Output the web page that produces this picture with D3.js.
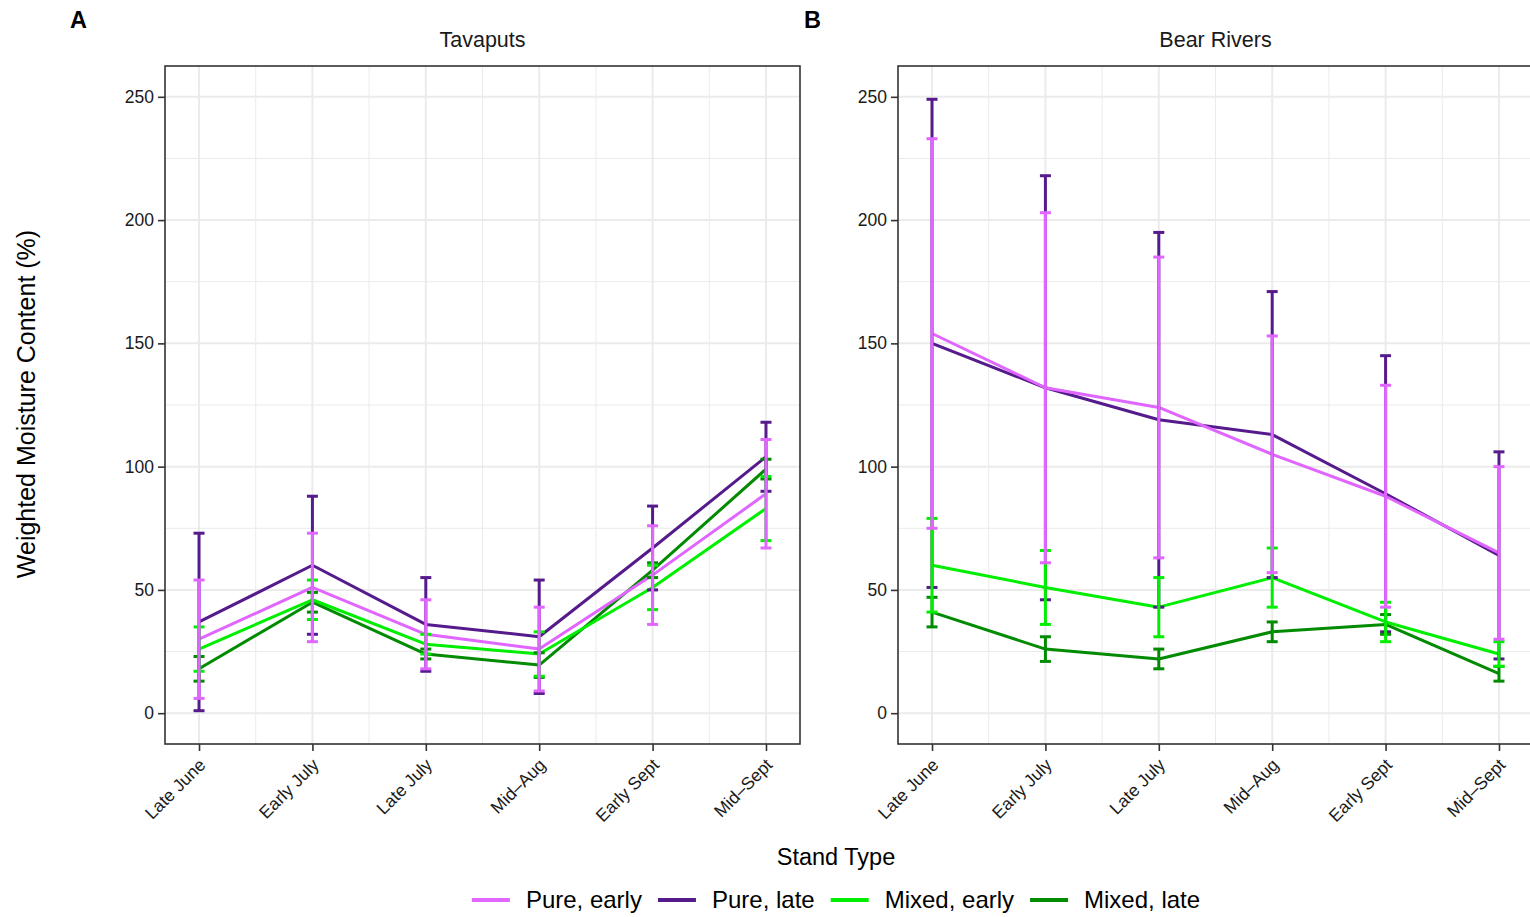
<!DOCTYPE html>
<html>
<head>
<meta charset="utf-8">
<script src="https://cdn.jsdelivr.net/npm/d3@7"></script>
<style>
  html, body { margin: 0; padding: 0; background: #fff; }
  svg { display: block; font-family: "Liberation Sans", Arial, Helvetica, sans-serif; }
</style>
</head>
<body>
<svg id="chart" width="1530" height="917"></svg>
<script>
// ---------- data ----------
const categories = ["Late June", "Early July", "Late July", "Mid–Aug", "Early Sept", "Mid–Sept"];
const seriesNames = ["Pure, early", "Pure, late", "Mixed, early", "Mixed, late"];
const seriesColors = ["#E066FF", "#551A8B", "#00EE00", "#008B00"];
const panelTitles = ["Tavaputs", "Bear Rivers"];
const panelTags = ["A", "B"];
const yTicks = [0, 50, 100, 150, 200, 250];

// Tavaputs: means and error half-widths
const tavPureEarly = [30, 51, 32, 26, 56, 89];
const tavPureEarlyErr = [24, 22, 14, 17, 20, 22];
const tavPureLate = [37, 60, 36, 31, 67, 104];
const tavPureLateErr = [36, 28, 19, 23, 17, 14];
const tavMixedEarly = [26, 46, 28, 24, 51, 83];
const tavMixedEarlyErr = [9, 8, 4, 9, 9, 13];
const tavMixedLate = [18, 45, 24, 19.5, 58, 99];
const tavMixedLateErr = [5, 4, 2, 5, 3, 4];

// Bear Rivers
const bearPureEarly = [154, 132, 124, 105, 88, 65];
const bearPureEarlyErr = [79, 71, 61, 48, 45, 35];
const bearPureLate = [150, 132, 119, 113, 89, 64];
const bearPureLateErr = [99, 86, 76, 58, 56, 42];
const bearMixedEarly = [60, 51, 43, 55, 37, 24];
const bearMixedEarlyErr = [19, 15, 12, 12, 8, 5];
const bearMixedLate = [41, 26, 22, 33, 36, 16];
const bearMixedLateErr = [6, 5, 4, 4, 4, 3];

// ---------- build ----------
const panelsData = [
  [
    {name: seriesNames[0], mean: tavPureEarly, err: tavPureEarlyErr},
    {name: seriesNames[1], mean: tavPureLate, err: tavPureLateErr},
    {name: seriesNames[2], mean: tavMixedEarly, err: tavMixedEarlyErr},
    {name: seriesNames[3], mean: tavMixedLate, err: tavMixedLateErr}
  ],
  [
    {name: seriesNames[0], mean: bearPureEarly, err: bearPureEarlyErr},
    {name: seriesNames[1], mean: bearPureLate, err: bearPureLateErr},
    {name: seriesNames[2], mean: bearMixedEarly, err: bearMixedEarlyErr},
    {name: seriesNames[3], mean: bearMixedLate, err: bearMixedLateErr}
  ]
];

const color = d3.scaleOrdinal().domain(seriesNames).range(seriesColors);
const drawOrder = ["Pure, late", "Mixed, late", "Mixed, early", "Pure, early"];
const barOrder = ["Pure, late", "Mixed, late", "Mixed, early", "Pure, early"];

const svg = d3.select("#chart");
const panelTop = 66, panelBottom = 744, panelWidth = 635;
const panelLefts = [165, 898];

const y = d3.scaleLinear().domain([-12.5, 262.5]).range([panelBottom, panelTop]);

panelsData.forEach((series, pi) => {
  const left = panelLefts[pi];
  const x = d3.scaleLinear().domain([0.7, 6.3]).range([left, left + panelWidth]);
  const catX = i => x(i + 1);
  const g = svg.append("g");

  const clipId = "clip" + pi;
  svg.append("defs").append("clipPath").attr("id", clipId)
    .append("rect").attr("x", left).attr("y", panelTop).attr("width", panelWidth).attr("height", panelBottom - panelTop);

  const grid = g.append("g");
  d3.range(25, 260, 50).forEach(v => {
    grid.append("line").attr("x1", left).attr("x2", left + panelWidth)
      .attr("y1", y(v)).attr("y2", y(v)).attr("stroke", "#EBEBEB").attr("stroke-width", 1);
  });
  d3.range(1.5, 6, 1).forEach(v => {
    grid.append("line").attr("x1", x(v)).attr("x2", x(v))
      .attr("y1", panelTop).attr("y2", panelBottom).attr("stroke", "#EBEBEB").attr("stroke-width", 1);
  });
  yTicks.forEach(v => {
    grid.append("line").attr("x1", left).attr("x2", left + panelWidth)
      .attr("y1", y(v)).attr("y2", y(v)).attr("stroke", "#EBEBEB").attr("stroke-width", 2);
  });
  categories.forEach((c, i) => {
    grid.append("line").attr("x1", catX(i)).attr("x2", catX(i))
      .attr("y1", panelTop).attr("y2", panelBottom).attr("stroke", "#EBEBEB").attr("stroke-width", 2);
  });

  const plot = g.append("g").attr("clip-path", `url(#${clipId})`);
  const line = d3.line().x((d, i) => catX(i)).y(d => y(d));

  drawOrder.forEach(name => {
    const s = series.find(d => d.name === name);
    plot.append("path").datum(s.mean).attr("d", line)
      .attr("fill", "none").attr("stroke", color(name)).attr("stroke-width", 3)
      .attr("stroke-linejoin", "round");
  });

  const capHalf = 5.5;
  barOrder.forEach(name => {
    const s = series.find(d => d.name === name);
    const eb = plot.append("g");
    s.mean.forEach((m, i) => {
      const cx = catX(i);
      const lo = m - s.err[i], hi = m + s.err[i];
      eb.append("line").attr("x1", cx).attr("x2", cx).attr("y1", y(lo)).attr("y2", y(hi))
        .attr("stroke", color(name)).attr("stroke-width", 3);
      [lo, hi].forEach(v => {
        eb.append("line").attr("x1", cx - capHalf).attr("x2", cx + capHalf).attr("y1", y(v)).attr("y2", y(v))
          .attr("stroke", color(name)).attr("stroke-width", 3);
      });
    });
  });

  g.append("rect").attr("x", left).attr("y", panelTop).attr("width", panelWidth).attr("height", panelBottom - panelTop)
    .attr("fill", "none").attr("stroke", "#333333").attr("stroke-width", 1.6);

  const yAxis = d3.axisLeft(y).tickValues(yTicks).tickSize(7).tickPadding(4);
  const ya = g.append("g").attr("transform", `translate(${left},0)`).call(yAxis);
  ya.select(".domain").remove();
  ya.selectAll(".tick line").attr("stroke", "#333333").attr("stroke-width", 1.6);
  ya.selectAll(".tick text").attr("fill", "#1a1a1a").style("font-size", "17.5px")
    .style("font-family", '"Liberation Sans", Arial, sans-serif');

  const xBand = d3.scalePoint().domain(categories).range([catX(0), catX(5)]);
  const xAxis = d3.axisBottom(xBand).tickSize(7).tickPadding(0);
  const xa = g.append("g").attr("transform", `translate(0,${panelBottom})`).call(xAxis);
  xa.select(".domain").remove();
  xa.selectAll(".tick line").attr("stroke", "#333333").attr("stroke-width", 1.6);
  xa.selectAll(".tick text")
    .attr("fill", "#1a1a1a").style("font-size", "17.5px")
    .style("font-family", '"Liberation Sans", Arial, sans-serif')
    .attr("text-anchor", "end")
    .attr("y", 0).attr("dy", "0")
    .attr("transform", "translate(7,22) rotate(-45)");

  svg.append("text").attr("x", left + panelWidth / 2).attr("y", 47)
    .attr("text-anchor", "middle").style("font-size", "21.5px").attr("fill", "#1a1a1a")
    .text(panelTitles[pi]);

  svg.append("text").attr("x", pi === 0 ? 70 : 804).attr("y", 28)
    .style("font-size", "23.5px").style("font-weight", "bold").attr("fill", "#000")
    .text(panelTags[pi]);
});

svg.append("text")
  .attr("transform", "translate(35,404) rotate(-90)")
  .attr("text-anchor", "middle").style("font-size", "25px").attr("fill", "#000")
  .text("Weighted Moisture Content (%)");

const legendCenter = 836;
svg.append("text").attr("x", legendCenter).attr("y", 865)
  .attr("text-anchor", "middle").style("font-size", "23.5px").attr("fill", "#000").text("Stand Type");

const leg = svg.append("g");
const keyW = 38, keyGap = 16, itemGap = 16;
let cursor = 0;
const items = seriesNames.map(name => {
  const t = leg.append("text").attr("y", 908).style("font-size", "24px").attr("fill", "#000").text(name);
  const w = t.node().getComputedTextLength();
  const it = {name, t, x: cursor, w};
  cursor += keyW + keyGap + w + itemGap;
  return it;
});
const totalW = cursor - itemGap;
const startX = legendCenter - totalW / 2;
items.forEach(it => {
  leg.append("line").attr("x1", startX + it.x).attr("x2", startX + it.x + keyW)
    .attr("y1", 900).attr("y2", 900).attr("stroke", color(it.name)).attr("stroke-width", 4);
  it.t.attr("x", startX + it.x + keyW + keyGap);
});
</script>
</body>
</html>
